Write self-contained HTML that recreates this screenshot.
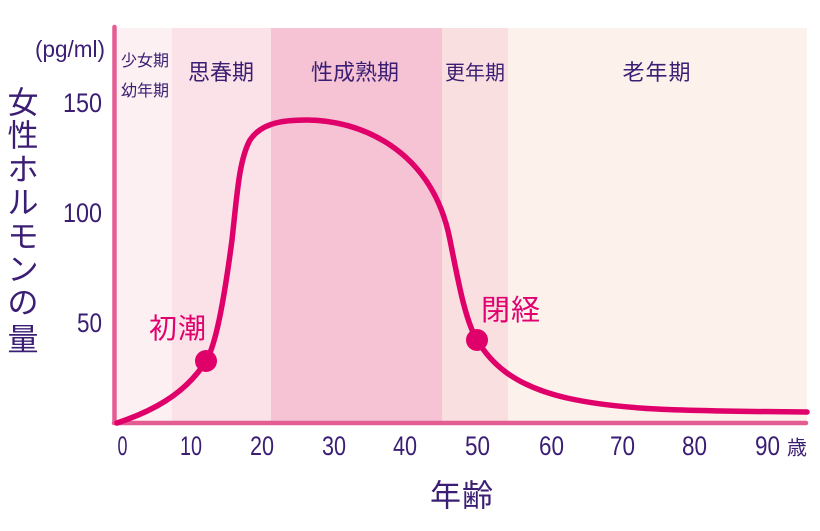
<!DOCTYPE html>
<html>
<head>
<meta charset="utf-8">
<style>
  html,body{margin:0;padding:0;background:#fff;}
  svg{display:block;}
  .p{fill:#3b1e73;font-family:"Liberation Sans","Noto Sans CJK JP",sans-serif;}
  .j{fill:#3b1e73;font-family:"Noto Sans CJK JP",sans-serif;}
  .k{fill:#e0006e;font-family:"Noto Sans CJK JP",sans-serif;}
</style>
</head>
<body>
<svg width="820" height="531" viewBox="0 0 820 531" xmlns="http://www.w3.org/2000/svg">
  <!-- bands -->
  <rect x="117" y="28" width="55" height="395" fill="#fdf0f2"/>
  <rect x="172" y="28" width="99" height="395" fill="#fbe1e8"/>
  <rect x="271" y="28" width="171" height="395" fill="#f5c3d4"/>
  <rect x="442" y="28" width="66" height="395" fill="#fadfe0"/>
  <rect x="508" y="28" width="299" height="395" fill="#fdf1ec"/>

  <!-- axes -->
  <line x1="114.5" y1="27" x2="114.5" y2="423" stroke="#e35d92" stroke-width="4.5" stroke-linecap="round"/>
  <line x1="114" y1="423" x2="806" y2="423" stroke="#e35d92" stroke-width="4.5" stroke-linecap="round"/>

  <!-- band labels -->
  <text class="j" x="145" y="59" font-size="16" text-anchor="middle" dominant-baseline="central">少女期</text>
  <text class="j" x="145" y="89" font-size="16" text-anchor="middle" dominant-baseline="central">幼年期</text>
  <text class="j" x="221" y="71" font-size="22" text-anchor="middle" dominant-baseline="central">思春期</text>
  <text class="j" x="355" y="71" font-size="22" text-anchor="middle" dominant-baseline="central">性成熟期</text>
  <text class="j" x="475" y="71" font-size="20" text-anchor="middle" dominant-baseline="central">更年期</text>
  <text class="j" x="657" y="71" font-size="22" text-anchor="middle" dominant-baseline="central" letter-spacing="1">老年期</text>

  <!-- curve -->
  <path d="M117,423 C150,412 185,395 206,361 C216,345 224,300 232,240 C237,195 239,160 250,140 C262,122 285,120 307,120 C358,120 432,148 450,240 C458,280 465,320 477,340 C489,360 510,385 567,398 C620,410 680,411 807,412"
        fill="none" stroke="#e0006a" stroke-width="5.5" stroke-linecap="round" stroke-linejoin="round"/>
  <circle cx="206" cy="361" r="11" fill="#e0006a"/>
  <circle cx="477" cy="340" r="11" fill="#e0006a"/>

  <text class="k" x="178" y="327" font-size="28" text-anchor="middle" dominant-baseline="central" letter-spacing="1">初潮</text>
  <text class="k" x="511" y="308" font-size="29" text-anchor="middle" dominant-baseline="central" letter-spacing="1">閉経</text>

  <!-- y axis units & ticks -->
  <text class="p" x="35" y="57" font-size="23" textLength="70" lengthAdjust="spacingAndGlyphs">(pg/ml)</text>
  <text class="p" x="63" y="112" font-size="27" textLength="39" lengthAdjust="spacingAndGlyphs">150</text>
  <text class="p" x="63" y="222" font-size="27" textLength="39" lengthAdjust="spacingAndGlyphs">100</text>
  <text class="p" x="77" y="332" font-size="27" textLength="25" lengthAdjust="spacingAndGlyphs">50</text>

  <!-- y axis title -->
  <g class="j" font-size="31" text-anchor="middle" dominant-baseline="central">
    <text x="23" y="100" dominant-baseline="central">女</text>
    <text x="23" y="133" dominant-baseline="central">性</text>
    <text x="23" y="167" dominant-baseline="central">ホ</text>
    <text x="23" y="200" dominant-baseline="central">ル</text>
    <text x="23" y="234" dominant-baseline="central">モ</text>
    <text x="23" y="267" dominant-baseline="central">ン</text>
    <text x="23" y="300" dominant-baseline="central">の</text>
    <text x="23" y="337" dominant-baseline="central">量</text>
  </g>

  <!-- x tick labels -->
  <g class="p" font-size="27">
    <text x="117.5" y="455" textLength="10" lengthAdjust="spacingAndGlyphs">0</text>
    <text x="180" y="455" textLength="22" lengthAdjust="spacingAndGlyphs">10</text>
    <text x="250" y="455" textLength="24" lengthAdjust="spacingAndGlyphs">20</text>
    <text x="322" y="455" textLength="24" lengthAdjust="spacingAndGlyphs">30</text>
    <text x="393" y="455" textLength="24" lengthAdjust="spacingAndGlyphs">40</text>
    <text x="465" y="455" textLength="25" lengthAdjust="spacingAndGlyphs">50</text>
    <text x="539" y="455" textLength="25" lengthAdjust="spacingAndGlyphs">60</text>
    <text x="610" y="455" textLength="25" lengthAdjust="spacingAndGlyphs">70</text>
    <text x="682" y="455" textLength="25" lengthAdjust="spacingAndGlyphs">80</text>
    <text x="755" y="455" textLength="25" lengthAdjust="spacingAndGlyphs">90</text>
  </g>
  <text class="j" x="797" y="446" font-size="20" text-anchor="middle" dominant-baseline="central">歳</text>

  <!-- x axis title -->
  <text class="j" x="462" y="493" font-size="31" text-anchor="middle" dominant-baseline="central" letter-spacing="1">年齢</text>
</svg>
</body>
</html>
